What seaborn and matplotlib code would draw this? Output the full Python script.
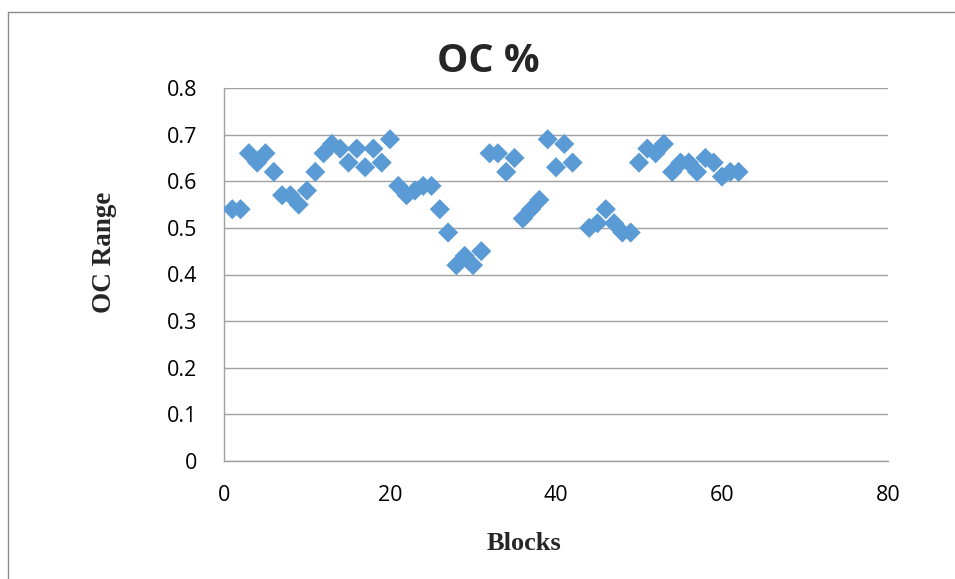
import matplotlib
matplotlib.use("Agg")
import matplotlib.pyplot as plt
from matplotlib.lines import Line2D
import seaborn as sns
import pandas as pd

# OC % per block
blocks = [1, 2, 3, 4, 5, 6, 7, 8, 9, 10,
          11, 12, 13, 14, 15, 16, 17, 18, 19, 20,
          21, 22, 23, 24, 25, 26, 27, 28, 29, 30,
          31, 32, 33, 34, 35, 36, 37, 38, 39, 40,
          41, 42, 44, 45, 46, 47, 48, 49, 50,
          51, 52, 53, 54, 55, 56, 57, 58, 59, 60,
          61, 62]
oc_values = [0.54, 0.54, 0.66, 0.64, 0.66, 0.62, 0.57, 0.57, 0.55, 0.58,
             0.62, 0.66, 0.68, 0.67, 0.64, 0.67, 0.63, 0.67, 0.64, 0.69,
             0.59, 0.57, 0.58, 0.59, 0.59, 0.54, 0.49, 0.42, 0.44, 0.42,
             0.45, 0.66, 0.66, 0.62, 0.65, 0.52, 0.54, 0.56, 0.69, 0.63,
             0.68, 0.64, 0.50, 0.51, 0.54, 0.51, 0.49, 0.49, 0.64,
             0.67, 0.66, 0.68, 0.62, 0.64, 0.64, 0.62, 0.65, 0.64, 0.61,
             0.62, 0.62]

x_ticks = [0, 20, 40, 60, 80]
x_tick_labels = ["0", "20", "40", "60", "80"]
y_ticks = [0, 0.1, 0.2, 0.3, 0.4, 0.5, 0.6, 0.7, 0.8]
y_tick_labels = ["0", "0.1", "0.2", "0.3", "0.4", "0.5", "0.6", "0.7", "0.8"]

df = pd.DataFrame({"Blocks": blocks, "OC": oc_values})

sns.set_theme(style="white")
plt.rcParams["font.family"] = ["Open Sans", "DejaVu Sans"]

GRID = "#A0A0A0"
MARKER = "#5B9BD5"

fig = plt.figure(figsize=(9.55, 5.79), dpi=100)
ax = fig.add_axes([224 / 955, 1 - 461 / 579, (888 - 224) / 955, (461 - 88) / 579])

sns.scatterplot(data=df, x="Blocks", y="OC", marker="D", s=105,
                color=MARKER, edgecolor="none", linewidth=0, ax=ax, zorder=3)

ax.set_xlim(0, 80)
ax.set_ylim(0, 0.8)
ax.set_xticks(x_ticks)
ax.set_xticklabels(x_tick_labels)
ax.set_yticks(y_ticks)
ax.set_yticklabels(y_tick_labels)
ax.tick_params(axis="both", length=0, labelsize=15.5, colors="black")
ax.tick_params(axis="y", pad=19)
ax.tick_params(axis="x", pad=17)

ax.yaxis.grid(True, color=GRID, linewidth=1.0)
ax.xaxis.grid(False)
ax.set_axisbelow(True)
for side in ["top", "right"]:
    ax.spines[side].set_visible(False)
for side in ["left", "bottom"]:
    ax.spines[side].set_color(GRID)
    ax.spines[side].set_linewidth(1.0)

ax.set_xlabel("")
ax.set_ylabel("")

serif = ["Liberation Serif", "DejaVu Serif"]
fig.text(524 / 955, 1 - 544 / 579, "Blocks", ha="center", va="center",
         fontsize=19, fontweight="bold", family=serif)
fig.text(104 / 955, 1 - 252 / 579, "OC Range", ha="center", va="center",
         rotation=90, fontsize=19.5, fontweight="bold", family=serif)
fig.text(488 / 955, 1 - 62 / 579, "OC %", ha="center", va="center",
         fontsize=28.5, fontweight="bold")

# outer chart frame (left and top edges)
x0, y0 = 8 / 955, 1 - 12 / 579
fig.add_artist(Line2D([x0, x0], [y0, -0.01], transform=fig.transFigure,
                      color="#8C8C8C", linewidth=1.0))
fig.add_artist(Line2D([x0, 1.01], [y0, y0], transform=fig.transFigure,
                      color="#8C8C8C", linewidth=1.0))

fig.savefig("out.png", dpi=100, facecolor="white")
